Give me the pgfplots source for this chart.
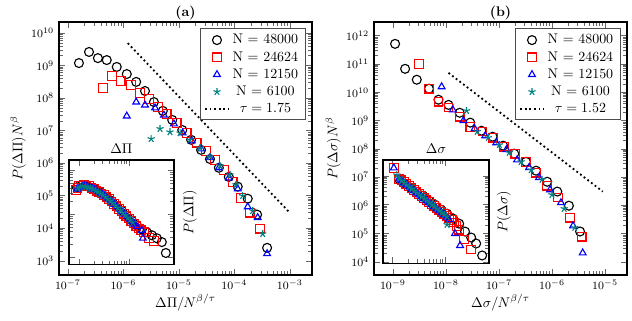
\documentclass[border=0pt]{standalone}
\usepackage{pgfplots}
\pgfplotsset{compat=1.18}
\definecolor{teal}{RGB}{0,128,128}
\tikzset{
  sA/.style={mark=o, mark size=3.2pt, black, mark options={line width=0.8pt}},
  sB/.style={mark=square, mark size=3.1pt, red, mark options={line width=0.8pt}},
  sC/.style={mark=triangle, mark size=2.8pt, blue, mark options={line width=0.8pt}},
  sD/.style={mark=star, mark size=2.7pt, teal, mark options={line width=0.8pt}},
  fitline/.style={black, dotted, line width=1.3pt},
}
\begin{document}
\begin{tikzpicture}
\useasboundingbox (-42.2pt,-32.9pt) rectangle (410pt,196.7pt);
% ---------------- (a) ----------------
\begin{axis}[name=a,
  xmode=log, ymode=log,
  width=181pt, height=181pt, scale only axis,
  axis line style={line width=1.1pt},
  tick style={black!60, line width=0.5pt},
  tick label style={font=\footnotesize},
  title style={font=\bfseries, yshift=-8pt},
  xlabel style={yshift=3pt},
  ylabel shift=-3pt,
  legend style={at={(0.975,0.975)}, anchor=north east, draw=black!70, line width=0.6pt},
  legend cell align=center,
  title={(a)},
  xmin=6.9e-8, xmax=2.5e-3, ymin=3.7e2, ymax=2.2e10,
  xtick={1e-7,1e-6,1e-5,1e-4,1e-3},
  ytick={1e3,1e4,1e5,1e6,1e7,1e8,1e9,1e10},
  xlabel={$\Delta\Pi/N^{\beta/\tau}$},
  ylabel={$P(\Delta\Pi)N^{\beta}$},
]
\addplot[only marks, sA] coordinates {(1.58e-7,1.20e9)(2.40e-7,2.63e9)(3.47e-7,1.70e9)(5.01e-7,1.48e9)(7.59e-7,9.12e8)(1.15e-6,5.50e8)(1.70e-6,3.16e8)(2.45e-6,1.66e8)(3.55e-6,7.59e7)(5.13e-6,4.07e7)(7.59e-6,2.14e7)(1.15e-5,1.05e7)(1.66e-5,5.25e6)(2.51e-5,2.57e6)(3.63e-5,1.35e6)(5.25e-5,7.24e5)(7.94e-5,3.80e5)(1.15e-4,1.91e5)(1.74e-4,8.13e4)(2.57e-4,2.63e4)(3.89e-4,2.51e3)};
\addlegendentry{N $=$ 48000}
\addplot[only marks, sB] coordinates {(4.27e-7,2.04e8)(6.17e-7,4.79e8)(8.91e-7,3.39e8)(1.37e-6,2.51e8)(1.99e-6,1.45e8)(2.88e-6,9.55e7)(4.17e-6,5.37e7)(6.03e-6,3.31e7)(9.12e-6,1.74e7)(1.38e-5,8.51e6)(2.09e-5,4.27e6)(3.09e-5,2.40e6)(4.47e-5,1.26e6)(6.46e-5,6.31e5)(9.33e-5,2.69e5)(1.32e-4,8.71e4)(1.91e-4,3.02e4)(2.88e-4,9.77e3)};
\addlegendentry{N $=$ 24624}
\addplot[only marks, sC] coordinates {(1.15e-6,2.82e7)(1.70e-6,7.59e7)(2.45e-6,6.17e7)(3.72e-6,5.01e7)(5.37e-6,3.02e7)(8.13e-6,1.62e7)(1.17e-5,8.51e6)(1.70e-5,4.90e6)(2.51e-5,2.75e6)(3.63e-5,1.48e6)(5.25e-5,7.24e5)(7.94e-5,3.55e5)(1.15e-4,1.62e5)(1.74e-4,4.57e4)(2.63e-4,2.14e4)(3.89e-4,1.66e3)};
\addlegendentry{N $=$ 12150}
\addplot[only marks, sD] coordinates {(3.16e-6,5.62e6)(4.57e-6,1.15e7)(6.92e-6,9.12e6)(1.05e-5,8.51e6)(1.58e-5,5.25e6)(2.40e-5,2.95e6)(3.63e-5,1.58e6)(5.50e-5,8.32e5)(8.32e-5,4.37e5)(1.07e-4,2.19e5)(1.41e-4,1.00e5)(2.14e-4,3.47e4)(3.24e-4,6.76e3)};
\addlegendentry{N $=$ 6100}
\addplot[fitline] coordinates {(1.2e-6,4.9e9)(1e-3,3.0e4)};
\addlegendentry{$\tau = 1.75$}
\end{axis}

\begin{axis}[at={(a.south west)}, anchor=south west, xshift=7.15pt, yshift=7.4pt,
  xmode=log, ymode=log, scale only axis, clip=false,
  width=75pt, height=75pt,
  axis line style={line width=1.1pt},
  tick style={black!60, line width=0.5pt},
  xticklabels={}, yticklabels={},
  axis background/.style={fill=white},
  xmin=0.63, xmax=79.4, ymin=0.70, ymax=177,
  xtick={1,10}, ytick={1,10,100},
]
\addplot[only marks, sA] coordinates {(0.91,41.5)(1.15,46.0)(1.45,43.7)(1.82,39.4)(2.29,35.5)(2.88,30.4)(3.63,24.7)(4.57,20.1)(5.75,15.5)(7.24,12.0)(9.12,9.25)(11.5,7.14)(14.5,5.52)(18.2,4.48)(22.9,3.84)(28.8,3.29)(36.3,2.81)(45.7,2.29)(55.0,1.29)};
\addplot[only marks, sB] coordinates {(0.87,35.5)(0.93,39.4)(1.0,43.7)(1.12,44.8)(1.26,46.0)(1.41,44.8)(1.58,43.7)(1.78,40.4)(2.0,37.4)(2.24,34.6)(2.51,32.1)(2.82,29.7)(3.16,27.4)(3.55,24.7)(3.98,22.3)(4.47,19.6)(5.01,17.2)(5.62,15.1)(6.31,13.3)(7.08,11.7)(7.94,10.3)(8.91,9.03)(10,7.92)(11.2,6.96)(12.6,6.12)(14.1,5.37)(15.8,4.72)(17.8,4.26)(20,3.84)(25.1,2.81)(31.6,2.41)};
\addplot[only marks, sC] coordinates {(0.91,37.4)(1.02,40.4)(1.15,43.7)(1.29,43.7)(1.45,43.7)(1.62,41.5)(1.82,39.4)(2.04,36.6)(2.29,33.7)(2.57,31.2)(2.88,28.9)(3.23,26.1)(3.63,23.5)(4.07,21.2)(4.57,19.1)(5.13,16.8)(5.75,14.8)(6.45,13.0)(7.24,11.4)(8.13,10.0)(9.12,8.79)(10.2,7.72)(11.5,6.78)(12.9,5.96)(14.5,5.24)(18.2,4.26)(19.1,2.81)};
\addplot[only marks, sD] coordinates {(0.95,39.4)(1.07,41.5)(1.20,43.7)(1.35,42.6)(1.51,41.5)(1.70,39.4)(1.91,37.4)(2.14,34.6)(2.40,32.1)(2.69,29.7)(3.02,27.4)(3.39,24.7)(3.80,22.3)(4.27,20.1)(4.79,18.1)(5.37,15.9)(6.03,14.0)(6.76,12.3)(7.59,10.8)(8.51,9.49)(9.55,8.34)(10.7,7.33)(12.0,6.44)};
\node[anchor=south, yshift=1pt] at (rel axis cs:0.5,1) {$\Delta\Pi$};
\node[rotate=90, anchor=north, yshift=-3pt] at (rel axis cs:1,0.5) {$P(\Delta\Pi)$};
\end{axis}

% ---------------- (b) ----------------
\begin{axis}[name=b, at={(a.south west)}, anchor=south west, xshift=225.4pt,
  xmode=log, ymode=log,
  width=181pt, height=181pt, scale only axis,
  axis line style={line width=1.1pt},
  tick style={black!60, line width=0.5pt},
  tick label style={font=\footnotesize},
  title style={font=\bfseries, yshift=-8pt},
  xlabel style={yshift=3pt},
  ylabel shift=-3pt,
  legend style={at={(0.975,0.975)}, anchor=north east, draw=black!70, line width=0.6pt},
  legend cell align=center,
  title={(b)},
  xmin=4.4e-10, xmax=2.6e-5, ymin=3.5e3, ymax=3.1e12,
  xtick={1e-9,1e-8,1e-7,1e-6,1e-5},
  ytick={1e4,1e5,1e6,1e7,1e8,1e9,1e10,1e11,1e12},
  xlabel={$\Delta\sigma/N^{\beta/\tau}$},
  ylabel={$P(\Delta\sigma)N^{\beta}$},
]
\addplot[only marks, sA] coordinates {(1.10e-9,5.2e11)(1.70e-9,6.8e10)(2.82e-9,2.8e10)(4.79e-9,1.35e10)(7.24e-9,5.5e9)(1.12e-8,3.6e9)(1.82e-8,1.9e9)(2.88e-8,8.5e8)(4.68e-8,4.4e8)(7.59e-8,2.7e8)(1.20e-7,1.3e8)(1.95e-7,6.8e7)(3.24e-7,3.5e7)(5.01e-7,1.7e7)(8.13e-7,6.9e6)(1.26e-6,3.1e6)(2.09e-6,9.8e5)(3.39e-6,1.2e5)};
\addlegendentry{N $=$ 48000}
\addplot[only marks, sB] coordinates {(3.09e-9,1.02e11)(4.79e-9,1.35e10)(7.24e-9,4.7e9)(1.12e-8,2.9e9)(1.82e-8,1.38e9)(2.88e-8,6.0e8)(4.90e-8,4.1e8)(7.76e-8,2.5e8)(1.26e-7,1.2e8)(2.04e-7,6.8e7)(3.24e-7,3.5e7)(5.01e-7,1.45e7)(8.13e-7,5.0e6)(1.29e-6,1.9e6)(2.19e-6,3.7e5)(3.63e-6,7.9e4)};
\addlegendentry{N $=$ 24624}
\addplot[only marks, sC] coordinates {(8.3e-9,1.58e10)(1.35e-8,2.4e9)(2.14e-8,1.0e9)(3.47e-8,5.2e8)(5.5e-8,2.9e8)(8.9e-8,1.65e8)(1.38e-7,9.4e7)(2.2e-7,4.1e7)(3.7e-7,2.2e7)(5.7e-7,9.6e6)(9.2e-7,3.6e6)(1.48e-6,1.25e6)(2.5e-6,1.9e5)(3.8e-6,2.1e4)};
\addlegendentry{N $=$ 12150}
\addplot[only marks, sD] coordinates {(2.45e-8,2.24e9)(3.9e-8,4.1e8)(6.3e-8,2.5e8)(1.02e-7,1.4e8)(1.56e-7,7.4e7)(2.63e-7,3.5e7)(4.07e-7,1.8e7)(6.5e-7,8.2e6)(1.0e-6,2.4e6)(1.7e-6,7.7e5)(2.7e-6,1.65e5)};
\addlegendentry{N $=$ 6100}
\addplot[fitline] coordinates {(1.12e-8,4.9e10)(9.1e-6,3.1e6)};
\addlegendentry{$\tau = 1.52$}
\end{axis}

\begin{axis}[at={(b.south west)}, anchor=south west, xshift=6.4pt, yshift=8.2pt,
  xmode=log, ymode=log, scale only axis, clip=false,
  width=76pt, height=74pt,
  axis line style={line width=1.1pt},
  tick style={black!60, line width=0.5pt},
  xticklabels={}, yticklabels={},
  axis background/.style={fill=white},
  xmin=0.68, xmax=67.6, ymin=0.092, ymax=355,
  xtick={1,10}, ytick={0.1,1,10,100},
]
\addplot[only marks, sA] coordinates {(1.36,78.8)(1.76,53.0)(2.28,38.5)(2.96,28.1)(3.85,20.4)(4.99,13.7)(6.48,10)(8.41,6.72)(10.9,4.89)(14.2,3.29)(18.4,2.21)(23.8,1.17)(31.0,0.728)(38.5,0.452)(49.9,0.174)};
\addplot[only marks, sB] coordinates {(1.09,189)(1.36,78.8)(1.52,70.0)(1.68,62.1)(1.87,53.0)(2.09,45.2)(2.33,38.6)(2.60,32.9)(2.90,28.0)(3.23,23.9)(3.60,20.4)(4.02,17.4)(4.48,14.9)(4.99,12.7)(5.56,10.8)(6.20,9.24)(6.91,7.88)(7.71,6.72)(8.59,5.73)(9.57,4.89)(10.7,4.17)(11.9,3.56)(13.3,2.92)(14.8,2.40)(16.5,1.81)(18.4,1.37)(22.8,0.621)(31.0,0.281)};
\addplot[only marks, sC] coordinates {(1.09,189)(1.36,78.8)(1.52,67.2)(1.68,57.4)(1.87,49.0)(2.09,41.8)(2.33,35.6)(2.60,30.4)(2.90,25.9)(3.23,22.1)(3.60,18.9)(4.02,16.1)(4.48,13.7)(4.99,11.7)(5.56,10.0)(6.20,8.53)(6.91,7.28)(7.71,6.21)(8.59,5.30)(9.57,4.52)(10.7,3.71)(11.9,3.04)(15.4,1.0)(19.2,0.386)};
\addplot[only marks, sD] coordinates {(1.24,108)(1.38,85.3)(1.54,67.3)(1.72,57.4)(1.92,48.9)(2.14,41.7)(2.38,35.6)(2.66,30.4)(2.96,25.9)(3.30,22.1)(3.68,18.9)(4.10,16.1)(4.57,13.7)(5.10,11.7)(5.69,10)(6.34,8.53)(7.06,7.28)(7.87,6.21)(8.78,5.30)(9.78,4.52)(10.9,3.86)(10.9,2.04)};
\node[anchor=south, yshift=1pt] at (rel axis cs:0.5,1) {$\Delta\sigma$};
\node[rotate=90, anchor=north, yshift=-2pt] at (rel axis cs:1,0.5) {$P(\Delta\sigma)$};
\end{axis}
\end{tikzpicture}
\end{document}
